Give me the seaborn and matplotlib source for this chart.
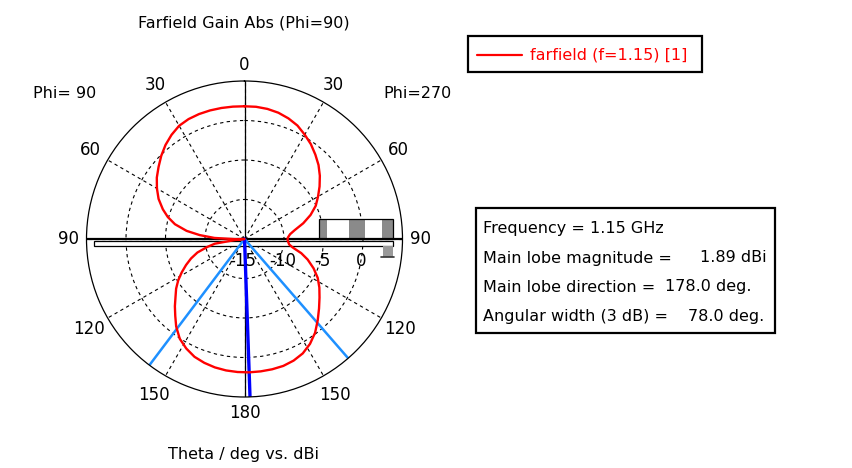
import numpy as np
import matplotlib
matplotlib.use("Agg")
import matplotlib.pyplot as plt
from matplotlib.patches import Rectangle
from matplotlib.lines import Line2D
import seaborn as sns

# ---------------- data ----------------
theta_deg = [0, 5, 10, 15, 20, 25, 30, 35, 40, 45, 50, 55, 60, 65, 70, 75, 80, 84, 88,
             91, 94, 97, 100, 104, 108, 113, 118, 123, 128, 133, 138, 143, 148, 153,
             158, 163, 168, 173, 178, 183, 188, 193, 198, 203, 208, 213, 218, 222,
             226, 230, 234, 238, 242, 246, 250, 254, 258, 261, 264, 266.5, 269, 272,
             275, 278, 282, 286, 290, 295, 300, 305, 310, 315, 320, 325, 330, 335,
             340, 345, 350, 355]
gain_dbi = [1.80, 1.80, 1.72, 1.55, 1.25, 0.85, 0.25, -0.35, -1.05, -1.75, -2.55, -3.4,
            -4.25, -5.05, -6.1, -7.3, -8.55, -9.2, -9.5, -9.55, -9.45, -9.3, -8.8, -7.6,
            -6.6, -5.5, -4.5, -3.7, -2.95, -2.1, -1.15, -0.15, 0.65, 1.25, 1.6, 1.8,
            1.86, 1.88, 1.89, 1.86, 1.80, 1.68, 1.48, 1.2, 0.7, 0.05, -0.95, -1.9,
            -2.75, -3.6, -4.3, -5.1, -6.0, -6.9, -7.8, -8.8, -10.2, -11.2, -13.8, -17.0,
            -13.8, -11.2, -9.3, -7.6, -6.0, -4.9, -4.0, -3.0, -2.2, -1.45, -0.8, -0.1,
            0.55, 1.1, 1.55, 1.75, 1.83, 1.85, 1.84, 1.82]
r_ticks = [-15, -10, -5, 0]
angle_ticks = [0, 30, 60, 90, 120, 150, 180, 210, 240, 270, 300, 330]
angle_labels = ["0", "30", "60", "90", "120", "150", "180", "150", "120", "90", "60", "30"]
freq_ghz = 1.15
main_lobe_mag = 1.89
main_lobe_dir = 178.0
angular_width = 78.0
legend_label = "farfield (f=1.15) [1]"
title = "Farfield Gain Abs (Phi=90)"
xlabel = "Theta / deg vs. dBi"

RMIN, RMAX = -15, 5
W, H = 853, 468

sns.set_theme(style="white")
plt.rcParams["font.family"] = ["DejaVu Sans"]
plt.rcParams["text.color"] = "black"
plt.rcParams["axes.facecolor"] = "white"

fig = plt.figure(figsize=(W / 100, H / 100), dpi=100)
fig.patch.set_facecolor("white")

cx, cy, R = 244.5, 239.0, 158.0


def fx(x):
    return x / W


def fy(y):
    return 1 - y / H


ax = fig.add_axes([fx(cx - R), fy(cy + R), 2 * R / W, 2 * R / H], projection="polar")
ax.set_theta_zero_location("N")
ax.set_theta_direction(-1)
ax.set_rlim(RMIN, RMAX)
ax.set_rticks(r_ticks[1:])
ax.set_yticklabels([])
ax.set_xticks(np.deg2rad(angle_ticks))
ax.set_xticklabels([])
ax.grid(True, color="black", linestyle=(0, (3, 3)), linewidth=0.8)
ax.spines["polar"].set_color("black")
ax.spines["polar"].set_linewidth(0.9)
ax.tick_params(length=0)


# axes-fraction helpers for widgets (pixel -> axes coords)
def ax_x(x):
    return (x - (cx - R)) / (2 * R)


def ax_y(y):
    return ((cy + R) - y) / (2 * R)


# white bar along horizontal axis
ax.add_patch(Rectangle((ax_x(94), ax_y(245.5)), ax_x(393.3) - ax_x(94), ax_y(240.5) - ax_y(245.5),
                       transform=ax.transAxes, facecolor="white", edgecolor="black",
                       linewidth=0.9, zorder=1, clip_on=False))
# gray/white scale widget
segs = [(319.3, 327.3, "#8a8a8a"), (327.3, 349.3, "white"), (349.3, 365.0, "#8a8a8a"),
        (365.0, 381.7, "white"), (381.7, 393.3, "#8a8a8a")]
for x0, x1, c in segs:
    ax.add_patch(Rectangle((ax_x(x0), ax_y(239.3)), ax_x(x1) - ax_x(x0), ax_y(219.3) - ax_y(239.3),
                           transform=ax.transAxes, facecolor=c, edgecolor="none",
                           zorder=1, clip_on=False))
ax.add_patch(Rectangle((ax_x(318.5), ax_y(239.3)), ax_x(393.3) - ax_x(318.5), ax_y(219.3) - ax_y(239.3),
                       transform=ax.transAxes, facecolor="none", edgecolor="black",
                       linewidth=0.9, zorder=1.1, clip_on=False))
ax.add_patch(Rectangle((ax_x(383), ax_y(256.5)), ax_x(393) - ax_x(383), ax_y(246) - ax_y(256.5),
                       transform=ax.transAxes, facecolor="#9a9a9a", edgecolor="none",
                       zorder=1, clip_on=False))
ax.add_line(Line2D([ax_x(381), ax_x(394)], [ax_y(256.5), ax_y(256.5)], transform=ax.transAxes,
                   color="#333333", lw=1.2, zorder=1.1, clip_on=False))

# solid principal axes
ax.axvline(0, color="black", lw=0.9, zorder=1.8)
ax.axvline(np.pi, color="black", lw=0.9, zorder=1.8)
ax.axvline(np.pi / 2, color="black", lw=1.6, zorder=1.8)
ax.axvline(3 * np.pi / 2, color="black", lw=1.6, zorder=1.8)

# 3 dB beamwidth lines and main lobe direction
for a in (main_lobe_dir - angular_width / 2, main_lobe_dir + angular_width / 2):
    sns.lineplot(x=np.deg2rad([a, a]), y=[RMIN, RMAX], color="#1e90ff", lw=1.8,
                 sort=False, estimator=None, ax=ax, legend=False, zorder=2.2)
sns.lineplot(x=np.deg2rad([main_lobe_dir, main_lobe_dir]), y=[RMIN, RMAX], color="#0000ff", lw=2.4,
             sort=False, estimator=None, ax=ax, legend=False, zorder=2.3)

# farfield curve
th = np.deg2rad(np.append(theta_deg, theta_deg[0] + 360))
gg = np.clip(np.append(gain_dbi, gain_dbi[0]), RMIN, None)
sns.lineplot(x=th, y=gg, color="red", lw=1.7, sort=False, estimator=None, ax=ax,
             legend=False, zorder=2.5)
ax.set_rlim(RMIN, RMAX)

# theta labels
lab_off = {"0": 16.5, "30": 20, "60": 20, "90": 18, "120": 22, "150": 22.5, "180": 16.5}
for a, lab in zip(angle_ticks, angle_labels):
    off = lab_off[lab] * (RMAX - RMIN) / R
    ax.text(np.deg2rad(a), RMAX + off, lab, ha="center", va="center", fontsize=12,
            color="black", clip_on=False)

# radial labels
for rv in r_ticks:
    xpx = cx + (rv - RMIN) / (RMAX - RMIN) * R
    fig.text(fx(xpx - 1.5), fy(261.5), str(rv), ha="center", va="center", fontsize=12, color="black")

fig.text(fx(244), fy(22.5), title, ha="center", va="center", fontsize=11.5)
fig.text(fx(244), fy(455), xlabel, ha="center", va="center", fontsize=11.5)
fig.text(fx(65), fy(93), "Phi= 90", ha="center", va="center", fontsize=11.5)
fig.text(fx(418), fy(93), "Phi=270", ha="center", va="center", fontsize=11.5)

# legend box
fig.patches.append(Rectangle((fx(468.3), fy(71.7)), fx(701.7) - fx(468.3), fy(35.7) - fy(71.7),
                             transform=fig.transFigure, facecolor="white", edgecolor="black",
                             linewidth=1.6))
fig.lines.append(Line2D([fx(477), fx(522)], [fy(55), fy(55)], transform=fig.transFigure,
                        color="red", lw=1.6))
fig.text(fx(530.5), fy(55), legend_label, ha="left", va="center", fontsize=11.5, color="red")

# info box
fig.patches.append(Rectangle((fx(476), fy(333.3)), fx(775) - fx(476), fy(208.3) - fy(333.3),
                             transform=fig.transFigure, facecolor="white", edgecolor="black",
                             linewidth=1.6))
info = [("Frequency = %.2f GHz" % freq_ghz, None, None),
        ("Main lobe magnitude =", "%.2f dBi" % main_lobe_mag, 700),
        ("Main lobe direction =", "%.1f deg." % main_lobe_dir, 665),
        ("Angular width (3 dB) =", "%.1f deg." % angular_width, 688)]
base_y = [233, 262.5, 291.5, 321]
for (lbl, val, vx), by in zip(info, base_y):
    fig.text(fx(483), fy(by), lbl, ha="left", va="baseline", fontsize=11.5)
    if val:
        fig.text(fx(vx), fy(by), val, ha="left", va="baseline", fontsize=11.5)

fig.savefig("out.png", dpi=100, facecolor="white")
